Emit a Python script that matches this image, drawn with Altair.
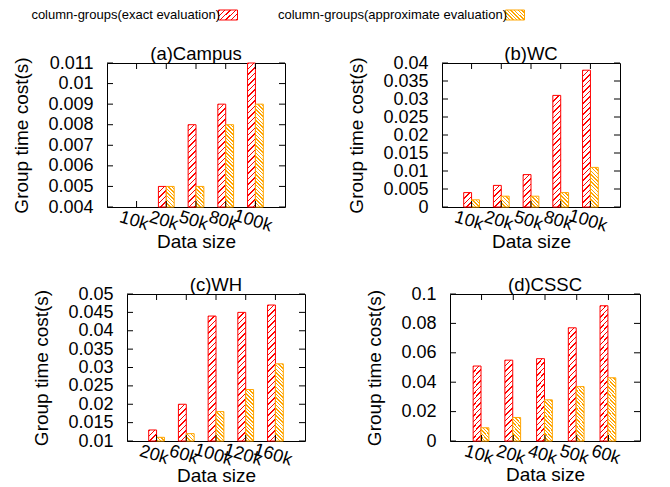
import altair as alt
import pandas as pd

series = ["column-groups(exact evaluation)", "column-groups(approximate evaluation)"]
colors = ["#ff0000", "#ffa500"]

titles = ["(a)Campus", "(b)WC", "(c)WH", "(d)CSSC"]

cats_a = ["10k", "20k", "50k", "80k", "100k"]
exact_a = [None, 0.005, 0.008, 0.009, 0.011]
approx_a = [None, 0.005, 0.005, 0.008, 0.009]
ticks_a = [0.004, 0.005, 0.006, 0.007, 0.008, 0.009, 0.01, 0.011]

cats_b = ["10k", "20k", "50k", "80k", "100k"]
exact_b = [0.004, 0.006, 0.009, 0.031, 0.038]
approx_b = [0.002, 0.003, 0.003, 0.004, 0.011]
ticks_b = [0, 0.005, 0.01, 0.015, 0.02, 0.025, 0.03, 0.035, 0.04]

cats_c = ["20k", "60k", "100k", "120k", "160k"]
exact_c = [0.013, 0.020, 0.044, 0.045, 0.047]
approx_c = [0.011, 0.012, 0.018, 0.024, 0.031]
ticks_c = [0.01, 0.015, 0.02, 0.025, 0.03, 0.035, 0.04, 0.045, 0.05]

cats_d = ["10k", "20k", "40k", "50k", "60k"]
exact_d = [0.051, 0.055, 0.056, 0.077, 0.092]
approx_d = [0.009, 0.016, 0.028, 0.037, 0.043]
ticks_d = [0, 0.02, 0.04, 0.06, 0.08, 0.1]

FONT = "Liberation Sans, Arial, sans-serif"
PAD_IN, PAD_OUT = 0.47, 0.73


def hatch(kind, w, h):
    """Diagonal hatch as a striped linear gradient (objectBoundingBox units)."""
    color = colors[kind]
    period = 5.5 if kind == 0 else 3.6
    lw = 1.5
    w = max(w, 0.5)
    h = max(h, 0.5)
    L = w + h
    k = L / (w * w + h * h)
    if kind == 0:
        x1, y1, x2, y2 = 0, 0, k * w, k * h
    else:
        x1, y1, x2, y2 = 0, 1, k * w, 1 - k * h
    stops = []
    i = 0
    while i * period < L:
        a = i * period / L
        b = min((i * period + lw) / L, 1)
        c = min((i + 1) * period / L, 1)
        stops += [{"offset": a, "color": color}, {"offset": b, "color": color},
                  {"offset": b, "color": "white"}, {"offset": c, "color": "white"}]
        i += 1
    return {"gradient": "linear", "x1": x1, "y1": y1, "x2": x2, "y2": y2, "stops": stops}


def panel(title, cats, ex, ap, ticks, W, H):
    ymin, ymax = ticks[0], ticks[-1]
    step = W / (len(cats) - PAD_IN + 2 * PAD_OUT)
    bw = step * (1 - PAD_IN) / 2
    rows = []
    for c, e, a in zip(cats, ex, ap):
        for si, v in enumerate((e, a)):
            if v is None:
                continue
            hpx = (v - ymin) / (ymax - ymin) * H
            rows.append({"cat": c, "series": series[si], "value": v, "grad": hatch(si, bw, hpx)})
    df = pd.DataFrame(rows)
    yscale = alt.Scale(domain=[ymin, ymax], clamp=True, zero=False, nice=False)
    xscale = alt.Scale(domain=cats, paddingInner=PAD_IN, paddingOuter=PAD_OUT)
    xaxis = alt.Axis(title="Data size", labelAngle=17, labelAlign="center",
                     labelBaseline="top", labelPadding=5, titlePadding=-2, labelOverlap=False)
    yaxis = alt.Axis(title="Group time cost(s)", values=ticks,
                     labelExpr="format(datum.value, '.3~f')",
                     labelPadding=14, titlePadding=16, labelOverlap=False, labelBound=False)

    bars = alt.Chart(df).mark_bar(strokeWidth=1).encode(
        x=alt.X("cat:N", scale=xscale, sort=cats, axis=xaxis),
        xOffset=alt.XOffset("series:N", scale=alt.Scale(domain=series, paddingInner=0, paddingOuter=0)),
        y=alt.Y("value:Q", scale=yscale, axis=yaxis),
        stroke=alt.Stroke("series:N", scale=alt.Scale(domain=series, range=colors), legend=None),
        fill=alt.Fill("grad:N", scale=None, legend=None),
    )
    tdf = pd.DataFrame({"value": ticks})
    cdf = pd.DataFrame({"cat": cats})
    lt = alt.Chart(tdf).mark_rule(color="black", strokeWidth=1).encode(
        y=alt.Y("value:Q", scale=yscale, axis=yaxis), x=alt.value(0), x2=alt.value(6))
    rt = alt.Chart(tdf).mark_rule(color="black", strokeWidth=1).encode(
        y=alt.Y("value:Q", scale=yscale, axis=yaxis), x=alt.value(W - 6), x2=alt.value(W))
    tt = alt.Chart(cdf).mark_rule(color="black", strokeWidth=1).encode(
        x=alt.X("cat:N", scale=xscale, sort=cats, axis=xaxis), y=alt.value(0), y2=alt.value(6))
    bt = alt.Chart(cdf).mark_rule(color="black", strokeWidth=1).encode(
        x=alt.X("cat:N", scale=xscale, sort=cats, axis=xaxis), y=alt.value(H - 6), y2=alt.value(H))
    return alt.layer(bars, bt, lt, rt, tt).properties(
        width=W, height=H,
        title=alt.TitleParams(title, fontSize=18.5, font=FONT, fontWeight="normal", offset=-9),
    )


def spacer(w, h):
    return alt.Chart(pd.DataFrame({"z": [0]})).mark_point(opacity=0, size=1).encode(
        x=alt.value(w / 2), y=alt.value(h / 2)
    ).properties(width=w, height=h, view=alt.ViewBackground(strokeOpacity=0))


pa = panel(titles[0], cats_a, exact_a, approx_a, ticks_a, 178, 144)
pb = panel(titles[1], cats_b, exact_b, approx_b, ticks_b, 178, 144)
pc = panel(titles[2], cats_c, exact_c, approx_c, ticks_c, 178, 147)
pd_ = panel(titles[3], cats_d, exact_d, approx_d, ticks_d, 190, 147)

# legend
ldf = pd.DataFrame({"series": series, "label": series,
                    "grad": [hatch(0, 19, 10), hatch(1, 19, 10)]})
lx = alt.X("series:N", scale=alt.Scale(type="point", domain=series, range=[220, 507], padding=0),
           axis=None)
sw = alt.Chart(ldf).mark_point(
    shape="M-1,-0.526L1,-0.526L1,0.526L-1,0.526Z", size=361, filled=True, opacity=1, strokeWidth=1
).encode(
    x=lx, y=alt.value(5),
    stroke=alt.Stroke("series:N", scale=alt.Scale(domain=series, range=colors), legend=None),
    fill=alt.Fill("grad:N", scale=None, legend=None),
)
lt = alt.Chart(ldf).mark_text(align="right", baseline="middle", dx=-8, fontSize=13, font=FONT,
                              color="black").encode(x=lx, y=alt.value(5), text="label:N")
legend = alt.layer(sw, lt).properties(width=600, height=10, view=alt.ViewBackground(strokeOpacity=0))

row1 = alt.hconcat(spacer(99, 144), alt.hconcat(pa, pb, spacing=157, bounds="flush"),
                   spacing=0, bounds="flush")
row2 = alt.hconcat(spacer(119, 147), alt.hconcat(pc, pd_, spacing=145, bounds="flush"),
                   spacing=0, bounds="flush")

chart = alt.vconcat(legend, alt.vconcat(row1, row2, spacing=22), spacing=22).properties(
    padding=0, background="white"
).configure_view(stroke="black", strokeWidth=1).configure_axis(
    labelFont=FONT, titleFont=FONT, labelFontSize=18, titleFontSize=19, titleFontWeight="normal",
    labelColor="black", titleColor="black", ticks=False, domain=False, grid=False,
)

chart.save("out.html", embed_options={"renderer": "svg", "actions": False})
